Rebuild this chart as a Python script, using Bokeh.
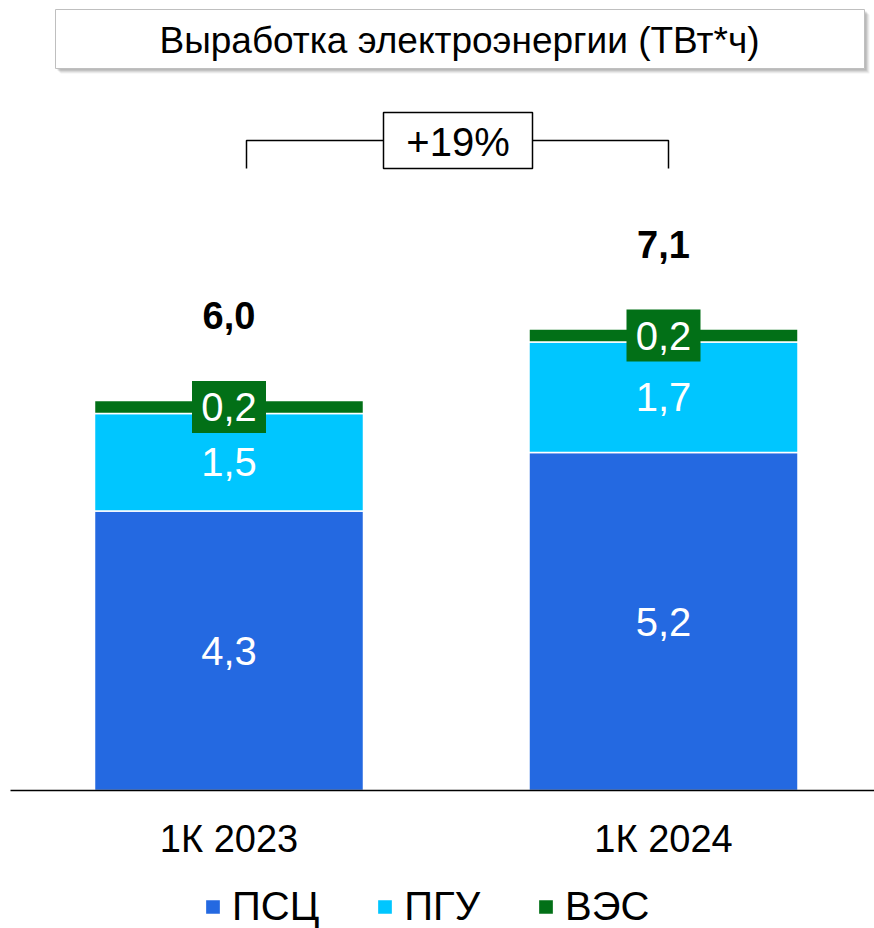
import numpy as np
from bokeh.plotting import figure
from bokeh.models import Range1d, ColumnDataSource, Legend, LegendItem
from bokeh.core.properties import value
from bokeh.embed import file_html
from bokeh.resources import INLINE

# ---------------- data ----------------
categories = ["1К 2023", "1К 2024"]
series = ["ПСЦ", "ПГУ", "ВЭС"]
psc = [4.3, 5.2]
pgu = [1.5, 1.7]
ves = [0.2, 0.2]
totals = [6.0, 7.1]
growth_label = "+19%"
title_text = "Выработка электроэнергии (ТВт*ч)"
colors = ["#2469E1", "#00C6FF", "#027017"]

FONT_NAME = "Liberation Sans"
FONT = value(FONT_NAME)

def fmt(v):
    return f"{v:.1f}".replace(".", ",")

# ---------------- geometry ----------------
W, H = 874, 928
PX_PER_UNIT = 65.0
BASE = 790.0                       # baseline, px from top of figure
y_start = -(H - BASE) / PX_PER_UNIT
y_end = BASE / PX_PER_UNIT

CAT_PX = 434.5                     # px between category centres
FIRST_CENTER_PX = 228.5
x_start = 0.5 - FIRST_CENTER_PX / CAT_PX
x_end = x_start + W / CAT_PX
BAR_W = 269 / CAT_PX

p = figure(width=W, height=H, output_backend="svg", toolbar_location=None,
           x_range=Range1d(x_start, x_end), y_range=Range1d(y_start, y_end),
           x_axis_location=None, y_axis_location=None, min_border=0,
           outline_line_color=None, background_fill_color="white",
           border_fill_color="white")
p.grid.visible = False
p.extra_x_ranges = {"px": Range1d(0, W)}
p.extra_y_ranges = {"py": Range1d(H, 0)}

xs = np.arange(len(categories)) + 0.5
src = ColumnDataSource(dict(x=xs, ПСЦ=psc, ПГУ=pgu, ВЭС=ves))

renderers = p.vbar_stack(series, x="x", width=BAR_W, source=src,
                         fill_color=colors, line_color="white", line_width=1.5)

# baseline
p.segment(x0=[10], y0=[BASE], x1=[W], y1=[BASE], x_range_name="px",
          y_range_name="py", line_color="black", line_width=1.5)

# value labels
psc_a = np.array(psc); pgu_a = np.array(pgu); ves_a = np.array(ves)
p.text(x=xs, y=psc_a / 2, text=[fmt(v) for v in psc], text_color="white",
       text_font=FONT, text_font_size="40px", text_align="center",
       text_baseline="middle")
p.text(x=xs, y=psc_a + pgu_a / 2, text=[fmt(v) for v in pgu], text_color="white",
       text_font=FONT, text_font_size="40px", text_align="center",
       text_baseline="middle")
ves_mid = psc_a + pgu_a + ves_a / 2
p.rect(x=xs, y=ves_mid, width=74, height=52, width_units="screen",
       height_units="screen", fill_color=colors[2], line_color=None)
p.text(x=xs, y=ves_mid, text=[fmt(v) for v in ves], text_color="white",
       text_font=FONT, text_font_size="40px", text_align="center",
       text_baseline="middle")

# totals
tot = psc_a + pgu_a + ves_a
p.text(x=xs, y=tot + 85 / PX_PER_UNIT, text=[fmt(v) for v in totals],
       text_color="black", text_font=FONT, text_font_size="38px",
       text_font_style="bold", text_align="center", text_baseline="middle")

# category labels
p.text(x=xs, y=[-48 / PX_PER_UNIT] * len(xs), text=categories, text_color="black",
       text_font=FONT, text_font_size="38px", text_align="center",
       text_baseline="middle")

# title box with shadow
for off, a in [(5, 0.10), (4, 0.15), (3, 0.2), (2, 0.25)]:
    p.quad(left=[55 + off], right=[864 + off], top=[9 + off], bottom=[68 + off],
           x_range_name="px", y_range_name="py", fill_color="#808080",
           fill_alpha=a, line_color=None)
p.quad(left=[55], right=[864], top=[9], bottom=[68], x_range_name="px",
       y_range_name="py", fill_color="white", line_color="#BFBFBF", line_width=1)
p.text(x=[459], y=[40], text=[title_text], x_range_name="px", y_range_name="py",
       text_font=FONT, text_font_size="37px", text_color="black",
       text_align="center", text_baseline="middle")

# growth bracket
p.multi_line(xs=[[246, 246, 668, 668]], ys=[[168, 140, 140, 168]],
             x_range_name="px", y_range_name="py", line_color="black",
             line_width=1.5)
p.quad(left=[383], right=[532], top=[112], bottom=[168], x_range_name="px",
       y_range_name="py", fill_color="white", line_color="black", line_width=1.5)
p.text(x=[457.5], y=[141], text=[growth_label], x_range_name="px",
       y_range_name="py", text_font=FONT, text_font_size="40px",
       text_color="black", text_align="center", text_baseline="middle")

# legend
legend = Legend(items=[LegendItem(label=s, renderers=[r]) for s, r in zip(series, renderers)],
                orientation="horizontal", location=(203, -1),
                label_text_font=FONT_NAME, label_text_font_size="40px",
                label_text_color="black", glyph_width=19, glyph_height=19,
                label_standoff=10, spacing=56, padding=0, margin=0,
                border_line_color=None, background_fill_alpha=0)
p.add_layout(legend, "center")

open("out.html", "w").write(file_html(p, INLINE))
